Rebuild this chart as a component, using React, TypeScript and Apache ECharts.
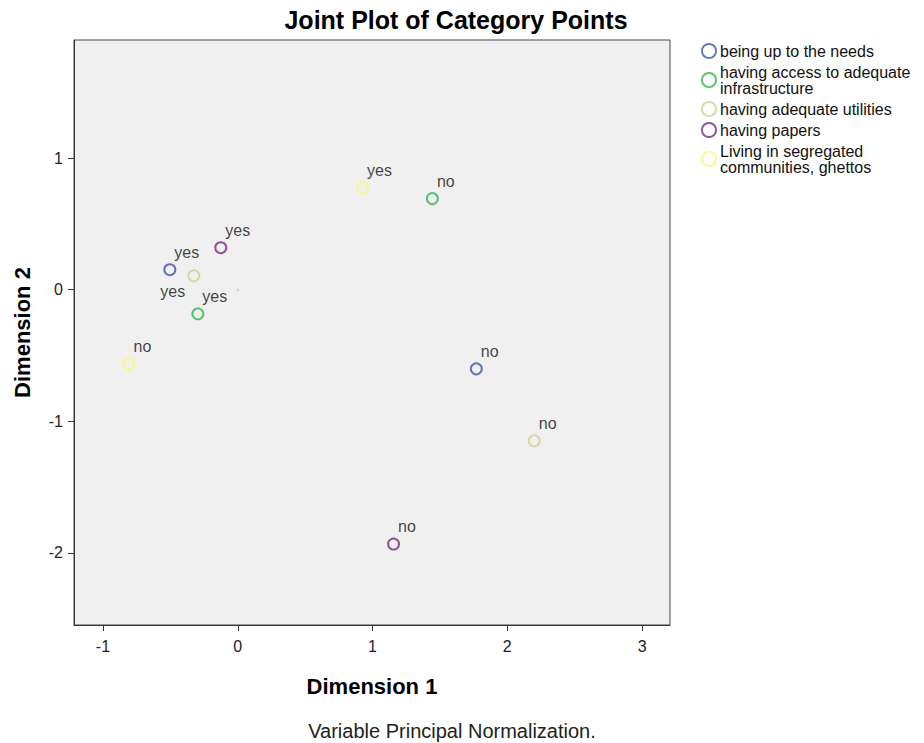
import React, { useEffect, useRef } from "react";
import * as echarts from "echarts";

// Category labels for each variable (first point = "yes", second = "no")
const categories = ["yes", "no"];

const seriesNames = [
  "being up to the needs",
  "having access to adequate infrastructure",
  "having adequate utilities",
  "having papers",
  "Living in segregated communities, ghettos",
];

const legendLabels = [
  "being up to the needs",
  "having access to adequate\ninfrastructure",
  "having adequate utilities",
  "having papers",
  "Living in segregated\ncommunities, ghettos",
];

const colors = ["#3E58AC", "#2EB848", "#D3CE97", "#7C287D", "#FBF873"];

// Dimension 1 values per variable, [yes, no]
const beingUpToNeedsDim1 = [-0.504, 1.77];
const infrastructureDim1 = [-0.296, 1.444];
const utilitiesDim1 = [-0.326, 2.2];
const papersDim1 = [-0.126, 1.156];
const segregatedDim1 = [0.926, -0.807];

// Dimension 2 values per variable, [yes, no]
const beingUpToNeedsDim2 = [0.152, -0.601];
const infrastructureDim2 = [-0.183, 0.692];
const utilitiesDim2 = [0.106, -1.148];
const papersDim2 = [0.319, -1.932];
const segregatedDim2 = [0.776, -0.563];

const originPoint = [[0, 0]];

const xTicks = [-1, 0, 1, 2, 3];
const yTicks = [-2, -1, 0, 1];

const dim1Sets = [beingUpToNeedsDim1, infrastructureDim1, utilitiesDim1, papersDim1, segregatedDim1];
const dim2Sets = [beingUpToNeedsDim2, infrastructureDim2, utilitiesDim2, papersDim2, segregatedDim2];

const FONT = "'Liberation Sans', Arial, sans-serif";

export default function App() {
  const ref = useRef<HTMLDivElement>(null);

  useEffect(() => {
    if (!ref.current) return;
    const chart = echarts.init(ref.current, null, { renderer: "svg" });

    const defaultLabel = {
      show: true,
      position: [11, -11],
      align: "left",
      verticalAlign: "middle",
      formatter: (p: any) => p.data.cat,
      color: "#111",
      fontFamily: FONT,
      fontSize: 16,
    };

    const series: any[] = seriesNames.map((name, si) => ({
      name,
      type: "scatter",
      symbol: "circle",
      symbolSize: 11,
      itemStyle: { color: "transparent", borderColor: colors[si], borderWidth: 2 },
      label: defaultLabel,
      emphasis: { disabled: true },
      data: categories.map((cat, ci) => {
        const item: any = { value: [dim1Sets[si][ci], dim2Sets[si][ci]], cat };
        // "yes" label of "having adequate utilities" sits below-left of its point
        if (si === 2 && ci === 0) {
          item.label = { position: [-27, 22] };
        }
        return item;
      }),
    }));

    series.push({
      name: "origin",
      type: "scatter",
      symbol: "rect",
      symbolSize: 2,
      silent: true,
      itemStyle: { color: "#C9C2A4" },
      data: originPoint,
    });

    chart.setOption({
      animation: false,
      backgroundColor: "#ffffff",
      title: {
        text: "Joint Plot of Category Points",
        left: 451,
        top: 2,
        textAlign: "center",
        textStyle: { fontFamily: FONT, fontSize: 25, fontWeight: "bold", color: "#000" },
      },
      legend: {
        orient: "vertical",
        left: 696,
        top: 38,
        itemWidth: 14,
        itemHeight: 14,
        itemGap: 5,
        selectedMode: false,
        data: seriesNames.map((name, i) => ({
          name,
          icon: "circle",
          itemStyle: { color: "transparent", borderColor: colors[i], borderWidth: 2 },
        })),
        formatter: (name: string) => legendLabels[seriesNames.indexOf(name)],
        textStyle: { fontFamily: FONT, fontSize: 16, lineHeight: 16, color: "#111", padding: [0, 0, 0, -1] },
      },
      grid: {
        left: 74,
        top: 40,
        right: 254,
        bottom: 118,
        show: true,
        backgroundColor: "#F0F0F0",
        borderColor: "#444",
        borderWidth: 1,
      },
      xAxis: {
        type: "value",
        min: -1.215,
        max: 3.207,
        name: "Dimension 1",
        nameLocation: "middle",
        nameGap: 50,
        nameTextStyle: { fontFamily: FONT, fontSize: 22, fontWeight: "bold", color: "#000" },
        axisLine: { show: true, onZero: false, lineStyle: { color: "#333", width: 1 } },
        axisTick: { show: true, length: 6, customValues: xTicks, lineStyle: { color: "#333" } },
        axisLabel: {
          customValues: xTicks,
          margin: 13,
          fontFamily: FONT,
          fontSize: 16,
          color: "#222",
        },
        splitLine: { show: false },
      },
      yAxis: {
        type: "value",
        min: -2.547,
        max: 1.897,
        name: "Dimension 2",
        nameLocation: "middle",
        nameGap: 41,
        nameTextStyle: { fontFamily: FONT, fontSize: 22, fontWeight: "bold", color: "#000" },
        axisLine: { show: true, onZero: false, lineStyle: { color: "#333", width: 1 } },
        axisTick: { show: true, length: 6, customValues: yTicks, lineStyle: { color: "#333" } },
        axisLabel: {
          customValues: yTicks,
          margin: 11,
          fontFamily: FONT,
          fontSize: 16,
          color: "#222",
        },
        splitLine: { show: false },
      },
      graphic: [
        {
          type: "text",
          x: 452,
          y: 731,
          style: {
            text: "Variable Principal Normalization.",
            fontFamily: FONT,
            fontSize: 20,
            fill: "#222",
            align: "center",
            verticalAlign: "middle",
          },
        },
      ],
      series,
    });

    return () => chart.dispose();
  }, []);

  return <div ref={ref} style={{ width: 924, height: 743, position: "absolute", left: 0, top: 0 }} />;
}
